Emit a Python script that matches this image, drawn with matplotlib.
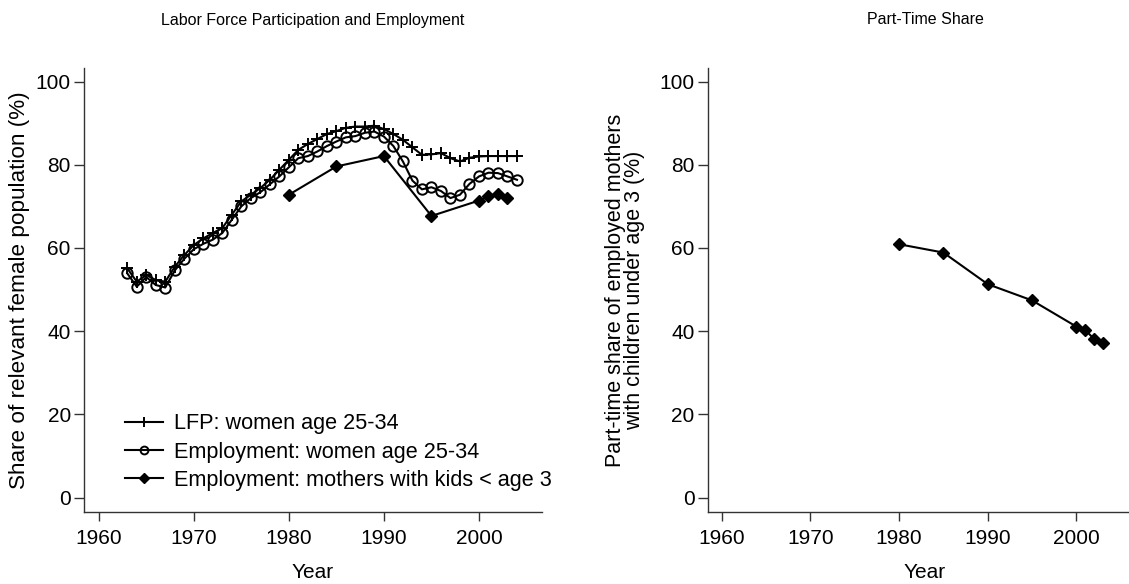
import matplotlib
matplotlib.use("Agg")
import matplotlib.pyplot as plt

plt.rcParams['font.family'] = ['Liberation Sans', 'DejaVu Sans']

years_lfp = list(range(1963, 2005))
lfp = [55.1, 51.9, 53.5, 52.3, 51.9, 55.5, 58.3, 60.7, 62.3, 63.6,
       64.8, 68.0, 71.2, 72.8, 74.4, 76.4, 78.8, 81.2, 83.6, 85.0,
       86.2, 87.4, 88.1, 88.9, 89.2, 89.2, 89.4, 88.6, 87.4, 86.0,
       84.2, 82.4, 82.5, 82.8, 81.6, 80.8, 81.7, 82.0, 82.1, 82.1,
       82.1, 82.1]
emp = [53.9, 50.7, 53.0, 51.1, 50.5, 54.6, 57.4, 59.7, 61.0, 62.0,
       63.6, 66.8, 70.0, 72.0, 73.4, 75.3, 77.2, 79.4, 81.6, 82.1,
       83.2, 84.5, 85.6, 86.6, 86.9, 87.7, 88.0, 86.8, 84.5, 80.8,
       76.2, 74.1, 74.6, 73.7, 72.0, 72.8, 75.4, 77.2, 78.1, 78.0,
       77.2, 76.4]
years_moth = [1980, 1985, 1990, 1995, 2000, 2001, 2002, 2003]
emp_moth = [72.8, 79.6, 82.1, 67.7, 71.4, 72.4, 73.0, 72.1]
part_time = [60.9, 58.9, 51.3, 47.4, 41.1, 40.3, 38.1, 37.1]

labels = ["LFP: women age 25-34", "Employment: women age 25-34",
          "Employment: mothers with kids < age 3"]
xticks = [1960, 1970, 1980, 1990, 2000]
yticks = [0, 20, 40, 60, 80, 100]

W, H = 1129, 584
fig = plt.figure(figsize=(W / 100, H / 100), dpi=100)

def px_axes(x0, x1, ytop, ybot):
    return fig.add_axes([x0 / W, 1 - ybot / H, (x1 - x0) / W, (ybot - ytop) / H])

ax1 = px_axes(84, 541.7, 68.3, 511.7)
ax2 = px_axes(707.7, 1142, 68.3, 511.7)

lw = 1.5
ax1.plot(years_lfp, lfp, color='black', lw=lw, marker='+', ms=9, mew=1.4, label=labels[0])
ax1.plot(years_lfp, emp, color='black', lw=lw, marker='o', ms=7.5, mfc='none', mew=1.4, label=labels[1])
ax1.plot(years_moth, emp_moth, color='black', lw=lw, marker='D', ms=6.5, label=labels[2])
ax2.plot(years_moth, part_time, color='black', lw=lw, marker='D', ms=6.5)

fs = 15
for ax in (ax1, ax2):
    ax.set_ylim(-3.4, 103.2)
    ax.set_xticks(xticks)
    ax.set_yticks(yticks)
    for s in ('top', 'right'):
        ax.spines[s].set_visible(False)
    for s in ('left', 'bottom'):
        ax.spines[s].set_color('#333333')
        ax.spines[s].set_linewidth(1.0)
    ax.tick_params(axis='y', direction='out', length=7.5, width=1, color='#333333',
                   labelsize=fs, pad=2)
    ax.tick_params(axis='x', direction='out', length=6.5, width=1, color='#333333',
                   labelsize=fs, pad=6)
    ax.set_xlabel("Year", fontsize=fs)
    ax.xaxis.label.set_va('center')
    ax.xaxis.set_label_coords(0.5, -0.137)

ax1.set_xlim(1958.45, 2006.6)
ax2.set_xlim(1958.42, 2007.4)

ax1.set_ylabel("Share of relevant female population (%)", fontsize=16.2)
ax1.yaxis.label.set_va('center')
ax1.yaxis.set_label_coords(-0.141, 0.5)
ax2.set_ylabel("Part-time share of employed mothers\nwith children under age 3 (%)", fontsize=15.5,
               linespacing=0.85)
ax2.yaxis.label.set_va('center')
ax2.yaxis.set_label_coords(-0.1905, 0.5)

fig.text(313 / W, 1 - 20 / H, "Labor Force Participation and Employment",
         fontsize=11.5, ha='center', va='center')
fig.text(925 / W, 1 - 20 / H, "Part-Time Share",
         fontsize=11.5, ha='center', va='center')

leg = ax1.legend(loc='upper left', bbox_to_anchor=(125 / W, 1 - 413.5 / H),
                 bbox_transform=fig.transFigure, frameon=False,
                 fontsize=15.6, handlelength=1.77, handletextpad=0.5,
                 labelspacing=0.33, markerscale=0.75, borderaxespad=0, borderpad=0)

fig.savefig("out.png", dpi=100)
